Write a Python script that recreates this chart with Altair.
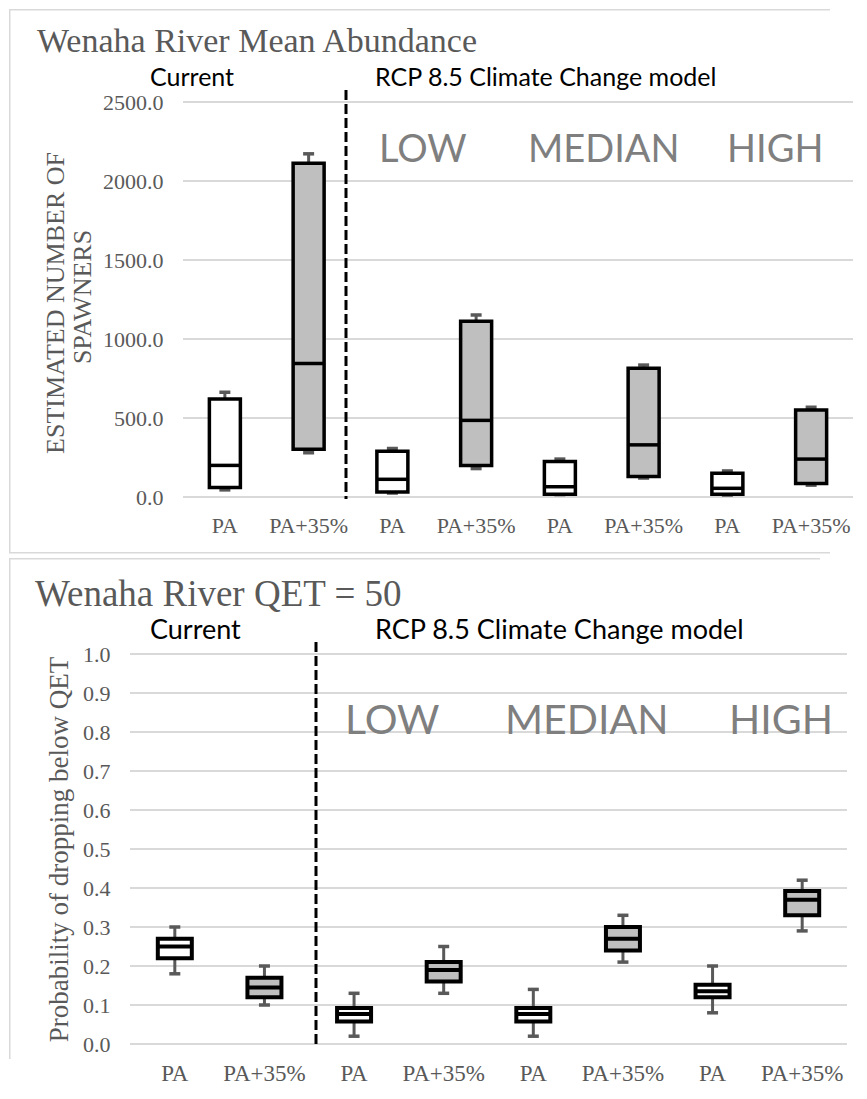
import altair as alt
import pandas as pd

# ---------------- data ----------------
scenarios = ["Current", "Current", "LOW", "LOW", "MEDIAN", "MEDIAN", "HIGH", "HIGH"]
treatments = ["PA", "PA+35%", "PA", "PA+35%", "PA", "PA+35%", "PA", "PA+35%"]

abund_min = [45, 280, 25, 180, 15, 120, 12, 75]
abund_q1 = [60, 302, 32, 200, 18, 130, 18, 85]
abund_median = [200, 845, 112, 485, 65, 330, 55, 240]
abund_q3 = [620, 2112, 290, 1113, 225, 815, 150, 550]
abund_max = [663, 2172, 307, 1152, 240, 835, 165, 568]
abund_ticks = [0, 500, 1000, 1500, 2000, 2500]

qet_min = [0.18, 0.10, 0.02, 0.13, 0.02, 0.21, 0.08, 0.29]
qet_q1 = [0.22, 0.12, 0.058, 0.16, 0.058, 0.24, 0.12, 0.33]
qet_median = [0.25, 0.145, 0.077, 0.19, 0.077, 0.27, 0.135, 0.37]
qet_q3 = [0.27, 0.17, 0.092, 0.21, 0.092, 0.30, 0.152, 0.392]
qet_max = [0.30, 0.20, 0.13, 0.25, 0.14, 0.33, 0.20, 0.42]
qet_ticks = [0.0, 0.1, 0.2, 0.3, 0.4, 0.5, 0.6, 0.7, 0.8, 0.9, 1.0]

titles = ["Wenaha River Mean Abundance", "Wenaha River QET = 50"]
group_labels = ["Current", "RCP 8.5 Climate Change model"]
scenario_labels = ["LOW", "MEDIAN", "HIGH"]
top_y_title_lines = ["ESTIMATED NUMBER OF", "SPAWNERS"]
bottom_y_title = "Probability of dropping below QET"

keys = [s + "|" + t for s, t in zip(scenarios, treatments)]

SERIF = "Liberation Serif"
SANS = "Lato"
GREY_TXT = "#595959"
GRID = "#d9d9d9"
WHISK = "#595959"


def one():
    return alt.Data(values=[{"a": 0}])


def panel(mins, q1s, meds, q3s, maxs, ticks, ymax, c):
    df = pd.DataFrame({
        "key": keys, "treatment": treatments,
        "lo": mins, "q1": q1s, "med": meds, "q3": q3s, "hi": maxs,
    })
    xenc = alt.X(
        "key:N", sort=keys,
        scale=alt.Scale(domain=keys, range=c["xrange"], paddingInner=0, paddingOuter=0),
        axis=alt.Axis(
            title=None, labelExpr="split(datum.label, '|')[1]", labelAngle=0,
            labelFont=SERIF, labelFontSize=c["xlab"], labelColor=GREY_TXT,
            labelPadding=c["xpad"], domain=False, ticks=False, tickSize=0, grid=False,
        ),
    )
    yscale = alt.Scale(domain=[0, ymax], nice=False, zero=True)
    axis_kw = dict(
        values=ticks, format=".1f", orient="left", offset=c["yoff"],
        labelFont=SERIF, labelFontSize=c["ylab"], labelColor=GREY_TXT,
        labelPadding=c["ypad"], domain=False, ticks=False, tickSize=0, grid=False,
    )
    if c.get("ytitle"):
        axis_kw.update(
            title=c["ytitle"], titleFont=SERIF, titleFontSize=c["ytsize"],
            titleFontWeight="normal", titleColor=GREY_TXT, titlePadding=c["ytpad"],
        )
    else:
        axis_kw.update(title=None)
    yaxis = alt.Axis(**axis_kw)

    grid = alt.Chart(pd.DataFrame({"v": ticks})).mark_rule(color=GRID, strokeWidth=2).encode(
        y=alt.Y("v:Q", scale=yscale, axis=yaxis),
        x=alt.value(c["xrange"][0]), x2=alt.value(c["xrange"][1]),
    )
    base = alt.Chart(df)
    whisker = base.mark_rule(color=WHISK, strokeWidth=3, opacity=1).encode(
        x=xenc, y=alt.Y("lo:Q", scale=yscale, axis=yaxis), y2="hi:Q"
    )
    cap_lo = base.mark_tick(color=WHISK, size=11, thickness=3.5, opacity=1).encode(
        x=xenc, y=alt.Y("lo:Q", scale=yscale, axis=yaxis)
    )
    cap_hi = base.mark_tick(color=WHISK, size=11, thickness=3.5, opacity=1).encode(
        x=xenc, y=alt.Y("hi:Q", scale=yscale, axis=yaxis)
    )
    box = base.mark_bar(size=c["bw"], stroke="black", strokeWidth=c["sw"], opacity=1).encode(
        x=xenc, y=alt.Y("q1:Q", scale=yscale, axis=yaxis), y2="q3:Q",
        fill=alt.Fill("treatment:N", scale=alt.Scale(domain=["PA", "PA+35%"],
                                                     range=["#ffffff", "#bfbfbf"]), legend=None),
    )
    median = base.mark_tick(color="black", size=c["bw"], thickness=c["sw"], opacity=1).encode(
        x=xenc, y=alt.Y("med:Q", scale=yscale, axis=yaxis)
    )
    dash = alt.Chart(one()).mark_rule(color="black", strokeWidth=3, strokeDash=[10, 4]).encode(
        x=alt.value(c["dash_x"]), y=alt.value(-12), y2=alt.value(c["dash_y2"])
    )
    title = alt.Chart(one()).mark_text(
        font=SERIF, fontSize=c["tsize"], color=GREY_TXT, align="left", baseline="alphabetic"
    ).encode(x=alt.value(c["title_x"]), y=alt.value(c["title_y"]), text=alt.value(c["title"]))
    texts = [title]
    for lab, gx in zip(group_labels, c["group_x"]):
        texts.append(alt.Chart(one()).mark_text(
            font=SANS, fontSize=c["gsize"], color="black", align="left", baseline="alphabetic"
        ).encode(x=alt.value(gx), y=alt.value(c["group_y"]), text=alt.value(lab)))
    for lab, sx in zip(scenario_labels, c["scen_x"]):
        texts.append(alt.Chart(one()).mark_text(
            font=SANS, fontSize=c["ssize"], color="#7f7f7f", align="left", baseline="alphabetic"
        ).encode(x=alt.value(sx), y=alt.value(c["scen_y"]), text=alt.value(lab)))
    for lab, (tx, ty) in zip(c.get("ytitle_lines", []), c.get("ytitle_pos", [])):
        texts.append(alt.Chart(one()).mark_text(
            font=SERIF, fontSize=c["ytsize"], color=GREY_TXT, align="center",
            baseline="middle", angle=270
        ).encode(x=alt.value(tx), y=alt.value(ty), text=alt.value(lab)))
    borders = []
    for (x1, y1, x2, y2) in c["borders"]:
        borders.append(alt.Chart(one()).mark_rect(color=GRID, opacity=1).encode(
            x=alt.value(x1), y=alt.value(y1), x2=alt.value(x2), y2=alt.value(y2)
        ))

    layers = [grid, whisker, cap_lo, cap_hi, box, median, dash] + texts + borders
    return alt.layer(*layers).properties(width=c["width"], height=c["height"])


top_cfg = dict(
    xrange=[53, 723], width=723, height=395, xlab=22, xpad=18, yoff=-53, ylab=22, ypad=20,
    ytitle=None, ytitle_lines=top_y_title_lines, ytitle_pos=[(-74, 201), (-47, 195)],
    ytsize=26, bw=31, sw=3.5, dash_x=216, dash_y2=397,
    tsize=34, title_x=-93, title_y=-50, title=titles[0],
    gsize=25, group_x=[20, 245], group_y=-16,
    ssize=38, scen_x=[249, 398, 597], scen_y=60,
    borders=[
        (-121, -93, 700, -91.5),
        (-121, -93, -119.5, 451),
        (-121, 450, 700, 451.5),
    ],
)
bottom_cfg = dict(
    xrange=[0, 717], width=717, height=390, xlab=23, xpad=18, yoff=0, ylab=22, ypad=20,
    ytitle=bottom_y_title, ytsize=27, ytpad=9, bw=34, sw=4, dash_x=186, dash_y2=391,
    tsize=37, title_x=-95, title_y=-48, title=titles[1],
    gsize=27, group_x=[20, 245], group_y=-15,
    ssize=41, scen_x=[215, 375, 599], scen_y=80,
    borders=[
        (-121, -96, 690, -94.5),
        (-121, -96, -119.5, 405),
    ],
)

top = panel(abund_min, abund_q1, abund_median, abund_q3, abund_max, abund_ticks, 2500, top_cfg)
bottom = panel(qet_min, qet_q1, qet_median, qet_q3, qet_max, qet_ticks, 1.0, bottom_cfg)

chart = alt.vconcat(
    top, bottom, spacing=3, padding={"left": 0, "top": 0, "right": 0, "bottom": 0}
).configure_view(stroke="transparent")

chart.save("out.html", embed_options={"renderer": "svg", "actions": False})
